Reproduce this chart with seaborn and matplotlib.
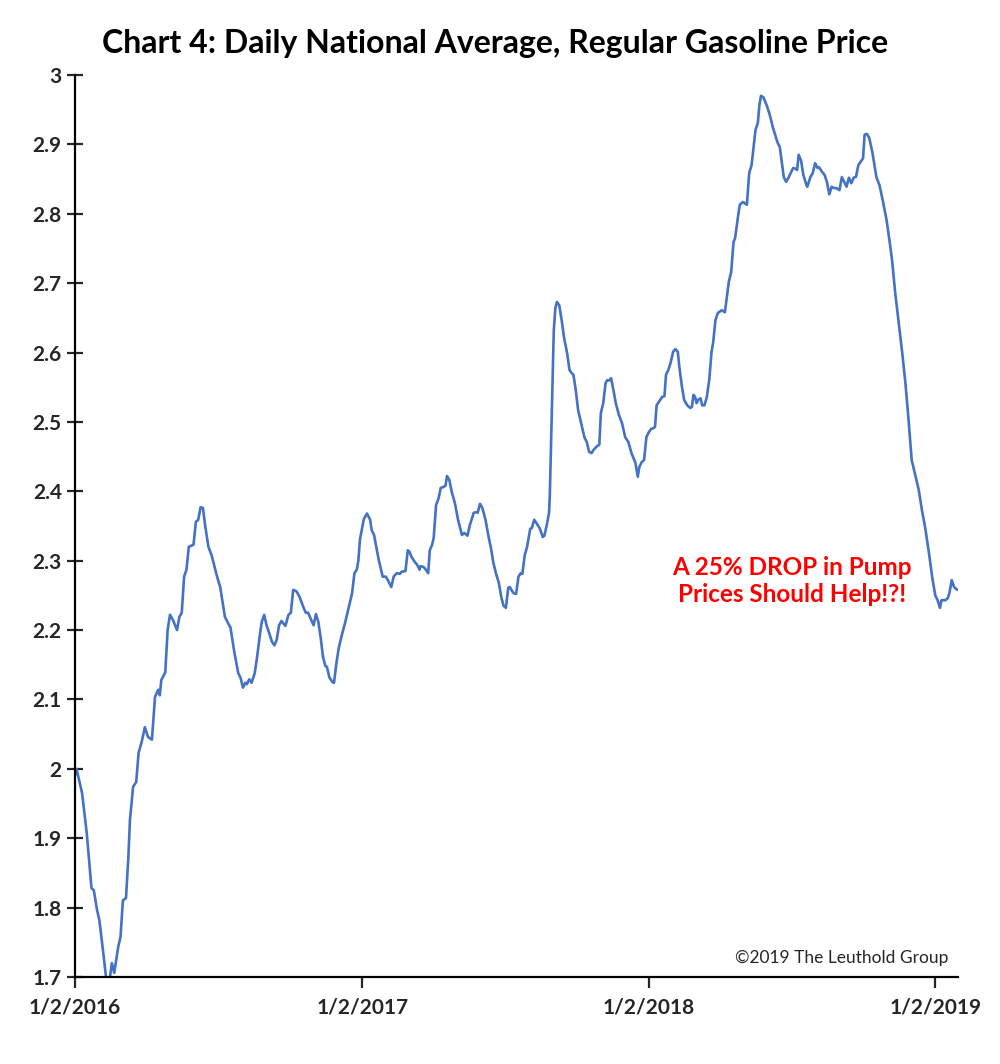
# %%
import numpy as np
import pandas as pd
import matplotlib.pyplot as plt
import matplotlib.ticker as mticker
import seaborn as sns

# %%
# daily national average regular gasoline price
# days are counted from 1/2/2016
start = pd.Timestamp('2016-01-02')

days_2016 = [0, 2, 4, 9, 15, 21, 24, 28, 31, 36,
             40, 44, 47, 50, 55, 58, 61, 65, 68, 70,
             74, 78, 81, 85, 89, 93, 98, 102, 106, 108,
             110, 115, 118, 121, 125, 130, 133, 136, 139, 142,
             145, 151, 154, 157, 160, 163, 166, 170, 174, 181,
             185, 191, 195, 198, 203, 208, 211, 214, 217, 219,
             222, 225, 229, 232, 236, 238, 241, 244, 247, 251,
             254, 257, 260, 263, 268, 272, 275, 278, 282, 286,
             291, 294, 297, 300, 304, 307, 310, 313, 316, 319,
             321, 324, 328, 330, 333, 336, 340, 344, 348, 353,
             356, 359, 361, 363]
price_2016 = [1.99, 2.00, 1.99, 1.965, 1.907, 1.828, 1.825, 1.797, 1.782, 1.735,
              1.695, 1.695, 1.72, 1.706, 1.743, 1.758, 1.81, 1.814, 1.873, 1.926,
              1.974, 1.981, 2.023, 2.039, 2.06, 2.046, 2.042, 2.104, 2.114, 2.106,
              2.128, 2.139, 2.20, 2.222, 2.214, 2.20, 2.219, 2.225, 2.277, 2.287,
              2.32, 2.323, 2.356, 2.359, 2.377, 2.376, 2.349, 2.32, 2.308, 2.277,
              2.262, 2.219, 2.21, 2.204, 2.168, 2.138, 2.131, 2.117, 2.124, 2.122,
              2.129, 2.124, 2.138, 2.161, 2.197, 2.212, 2.222, 2.207, 2.197, 2.183,
              2.178, 2.186, 2.207, 2.213, 2.206, 2.222, 2.225, 2.258, 2.256, 2.248,
              2.233, 2.225, 2.225, 2.217, 2.207, 2.223, 2.212, 2.189, 2.161, 2.148,
              2.147, 2.132, 2.125, 2.124, 2.152, 2.174, 2.193, 2.21, 2.229, 2.253,
              2.282, 2.287, 2.30, 2.33]

days_2017 = [368, 372, 376, 378, 381, 387, 392, 396, 399, 403,
             406, 410, 414, 416, 421, 424, 426, 429, 433, 436,
             439, 440, 444, 447, 450, 452, 455, 457, 460, 463,
             466, 469, 472, 474, 477, 480, 484, 488, 493, 496,
             500, 503, 508, 511, 513, 516, 519, 523, 527, 530,
             533, 537, 540, 543, 546, 549, 552, 554, 557, 559,
             562, 565, 568, 570, 573, 576, 580, 582, 585, 588,
             592, 596, 598, 601, 604, 605, 606, 608, 610, 612,
             614, 617, 620, 623, 627, 630, 633, 635, 638, 641,
             646, 649, 652, 655, 658, 661, 665, 668, 670, 673,
             676, 678, 681, 683, 686, 689, 693, 697, 701, 705,
             709, 714, 717, 719, 722, 725, 728]
price_2017 = [2.36, 2.368, 2.359, 2.344, 2.337, 2.301, 2.277, 2.277, 2.271, 2.262,
              2.277, 2.282, 2.281, 2.284, 2.285, 2.315, 2.313, 2.305, 2.298, 2.294,
              2.287, 2.292, 2.291, 2.287, 2.282, 2.315, 2.323, 2.333, 2.38, 2.389,
              2.405, 2.406, 2.408, 2.422, 2.416, 2.399, 2.383, 2.359, 2.337, 2.34,
              2.336, 2.351, 2.369, 2.37, 2.369, 2.382, 2.376, 2.359, 2.334, 2.318,
              2.297, 2.279, 2.268, 2.248, 2.235, 2.232, 2.261, 2.262, 2.256, 2.253,
              2.252, 2.277, 2.282, 2.281, 2.308, 2.32, 2.346, 2.347, 2.359, 2.354,
              2.347, 2.334, 2.336, 2.351, 2.369, 2.397, 2.445, 2.546, 2.632, 2.664,
              2.673, 2.668, 2.647, 2.622, 2.599, 2.575, 2.57, 2.568, 2.546, 2.517,
              2.493, 2.478, 2.471, 2.457, 2.455, 2.46, 2.465, 2.467, 2.513, 2.527,
              2.556, 2.56, 2.56, 2.563, 2.546, 2.527, 2.51, 2.498, 2.478, 2.471,
              2.455, 2.441, 2.421, 2.435, 2.442, 2.445, 2.478]

days_2018 = [731, 734, 737, 739, 741, 744, 748, 751, 753, 756,
             759, 762, 765, 768, 770, 773, 776, 780, 784, 786,
             788, 790, 792, 794, 797, 799, 802, 805, 808, 811,
             813, 816, 819, 824, 828, 833, 836, 839, 841, 845,
             847, 851, 856, 859, 862, 867, 870, 872, 874, 877,
             881, 884, 886, 889, 892, 895, 898, 901, 903, 906,
             909, 912, 915, 918, 920, 922, 925, 928, 932, 933,
             937, 940, 943, 946, 948, 952, 955, 958, 961, 964,
             967, 970, 974, 977, 980, 983, 986, 989, 992, 995,
             998, 1001, 1004, 1006, 1009, 1012, 1016, 1021, 1025, 1029,
             1034, 1038, 1041, 1045, 1049, 1054, 1058, 1062, 1066, 1070,
             1075, 1079, 1083, 1088, 1092]
price_2018 = [2.485, 2.49, 2.491, 2.493, 2.524, 2.529, 2.536, 2.537, 2.568, 2.575,
              2.586, 2.601, 2.605, 2.601, 2.579, 2.553, 2.532, 2.524, 2.52, 2.522,
              2.539, 2.536, 2.527, 2.532, 2.534, 2.524, 2.524, 2.536, 2.56, 2.601,
              2.614, 2.647, 2.657, 2.661, 2.658, 2.702, 2.716, 2.759, 2.765, 2.798,
              2.813, 2.817, 2.813, 2.859, 2.87, 2.921, 2.931, 2.957, 2.97, 2.968,
              2.957, 2.947, 2.939, 2.925, 2.914, 2.903, 2.896, 2.87, 2.853, 2.846,
              2.852, 2.859, 2.866, 2.865, 2.863, 2.885, 2.877, 2.856, 2.841, 2.839,
              2.853, 2.859, 2.873, 2.866, 2.867, 2.86, 2.856, 2.846, 2.828, 2.839,
              2.837, 2.837, 2.834, 2.853, 2.846, 2.839, 2.852, 2.844, 2.852, 2.853,
              2.87, 2.875, 2.88, 2.914, 2.915, 2.909, 2.888, 2.853, 2.841, 2.82,
              2.791, 2.759, 2.733, 2.686, 2.647, 2.599, 2.556, 2.503, 2.445, 2.426,
              2.402, 2.373, 2.349, 2.311, 2.277]

days_2019 = [1096, 1099, 1102, 1104, 1109, 1112, 1114, 1117, 1120, 1124]
price_2019 = [2.25, 2.243, 2.232, 2.243, 2.243, 2.246, 2.253, 2.272, 2.262, 2.258]

# %%
days = days_2016 + days_2017 + days_2018 + days_2019
price = price_2016 + price_2017 + price_2018 + price_2019
gas = pd.DataFrame({'date': start + pd.to_timedelta(days, unit='D'), 'price': price})

# %%
sns.set_style('ticks')
plt.rcParams['font.family'] = ['Lato', 'DejaVu Sans']

fig = plt.figure(figsize=(10, 10.64), dpi=100)
ax = fig.add_axes([0.075, 0.0818, 0.883, 0.8477])
sns.lineplot(data=gas, x='date', y='price', color='#4472C4', linewidth=1.9, ax=ax)

ax.set_xlim(start, start + pd.Timedelta(days=1125))
ax.set_ylim(1.7, 3.0)
ax.set_yticks(np.arange(1.7, 3.001, 0.1))
ax.yaxis.set_major_formatter(mticker.FuncFormatter(lambda v, p: f'{v:g}'))
xticks = [start + pd.DateOffset(years=i) for i in range(4)]
ax.set_xticks(xticks)
ax.set_xticklabels([f'{d.month}/{d.day}/{d.year}' for d in xticks])
ax.set_xlabel('')
ax.set_ylabel('')

sns.despine(ax=ax)
for side in ['left', 'bottom']:
    ax.spines[side].set_linewidth(1.6)
    ax.spines[side].set_color('black')
ax.tick_params(axis='y', direction='inout', length=11, width=1.6, pad=4)
ax.tick_params(axis='x', direction='out', length=8, width=1.6, pad=7)
for lab in ax.get_xticklabels() + ax.get_yticklabels():
    lab.set_fontsize(15)
    lab.set_fontweight('bold')

fig.text(0.495, 0.9595, 'Chart 4: Daily National Average, Regular Gasoline Price',
         ha='center', va='center', fontsize=23, fontweight='bold', color='black')
ax.text(0.812, 0.439, 'A 25% DROP in Pump\nPrices Should Help!?!', transform=ax.transAxes,
        ha='center', va='center', color='red', fontsize=17.5, fontweight='bold',
        linespacing=1.25)
ax.text(0.989, 0.021, '\u00a92019 The Leuthold Group', transform=ax.transAxes,
        ha='right', va='center', fontsize=12.5,
        family=['Liberation Sans Narrow', 'Lato', 'DejaVu Sans'])

fig.savefig('out.png', dpi=100)
